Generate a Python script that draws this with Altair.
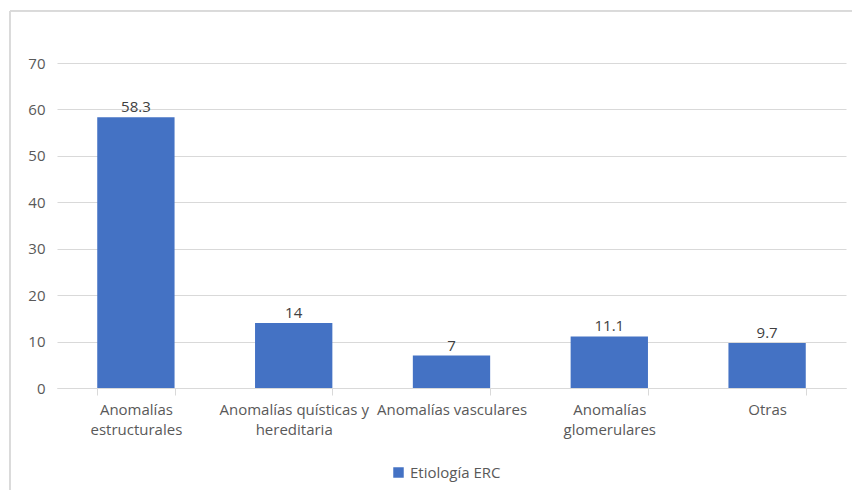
import altair as alt
import pandas as pd

categories = ["Anomalías estructurales", "Anomalías quísticas y hereditaria",
              "Anomalías vasculares", "Anomalías glomerulares", "Otras"]
label_lines = [["Anomalías", "estructurales"], ["Anomalías quísticas y", "hereditaria"],
               ["Anomalías vasculares"], ["Anomalías", "glomerulares"], ["Otras"]]
values = [58.3, 14, 7, 11.1, 9.7]
series = "Etiología ERC"
y_ticks = [0, 10, 20, 30, 40, 50, 60, 70]

df = pd.DataFrame({"cat": categories, "val": values, "serie": [series] * len(categories)})

expr = "''"
for c, lines in reversed(list(zip(categories, label_lines))):
    arr = "[" + ",".join("'" + l + "'" for l in lines) + "]"
    expr = f"datum.label == '{c}' ? {arr} : ({expr})"

FONT = "Open Sans"
GRAY = "#595959"
FS = 15

x = alt.X("cat:N", sort=categories, title=None,
          scale=alt.Scale(paddingInner=0.51, paddingOuter=0.255),
          axis=alt.Axis(labelAngle=0, labelExpr=expr, labelLineHeight=20,
                        labelFont=FONT, labelFontSize=FS, labelColor=GRAY,
                        labelPadding=7, domainColor="#d9d9d9", tickColor="#d9d9d9",
                        tickSize=7, tickBand="extent", labelLimit=220))
y = alt.Y("val:Q", title=None,
          scale=alt.Scale(domain=[0, 70]),
          axis=alt.Axis(values=y_ticks, domain=False, ticks=False, grid=True,
                        gridColor="#d9d9d9", labelFont=FONT, labelFontSize=FS,
                        labelColor=GRAY, labelPadding=12))

border = alt.Chart(df).mark_rect(fill=None, stroke="#d9d9d9", strokeWidth=1).encode(
    x=alt.value(-47), x2=alt.value(805), y=alt.value(-52), y2=alt.value(440)
)

bars = alt.Chart(df).mark_bar(color="#4472C4").encode(
    x=x, y=y,
    color=alt.Color("serie:N", scale=alt.Scale(range=["#4472C4"]),
                    legend=alt.Legend(title=None, orient="none", legendX=334, legendY=402,
                                      labelFont=FONT, labelFontSize=FS, labelColor=GRAY,
                                      symbolType="square", symbolSize=110,
                                      symbolStrokeWidth=0))
)

text = alt.Chart(df).mark_text(baseline="bottom", dy=-2, font=FONT, fontSize=FS,
                               color="#404040").encode(
    x=alt.X("cat:N", sort=categories), y="val:Q", text=alt.Text("val:Q")
)

chart = alt.layer(border, bars, text).properties(
    width=789, height=325,
    padding={"left": 57, "top": 63, "right": 6, "bottom": 102},
    autosize=alt.AutoSizeParams(type="none"),
    background="white"
).configure_view(stroke=None)

chart.save("out.html", embed_options={"renderer": "svg", "actions": False})
